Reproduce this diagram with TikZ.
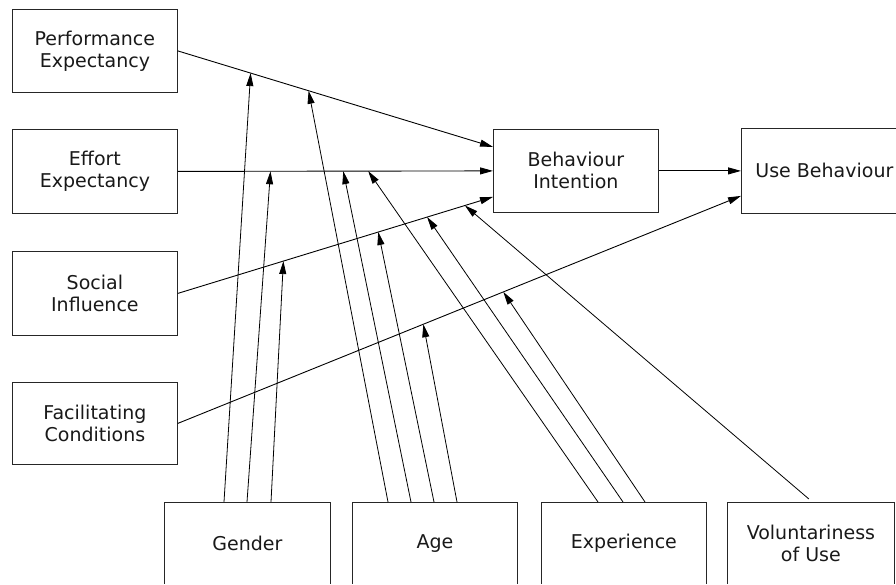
\documentclass[tikz,border=0pt]{standalone}
\usepackage{fontspec}
\setmainfont{DejaVu Sans}
\usetikzlibrary{arrows.meta,calc}
\begin{document}
\begin{tikzpicture}[x=1pt,y=-1pt,
  box/.style={draw=black!85,line width=0.8pt,minimum width=165pt,minimum height=83pt,
    inner sep=0pt,anchor=north west,align=center,
    font=\fontsize{19}{22}\selectfont,text=black!90},
  link/.style={line width=0.9pt,-{Triangle[length=13pt,width=7pt]}},
  mod/.style={line width=0.8pt,-{Triangle[length=13pt,width=7pt]}}]
\useasboundingbox (0,0) rectangle (896,584);
\clip (0,0) rectangle (896,584);

% determinants
\node[box] (PE) at (12,9)   {Performance\\Expectancy};
\node[box,minimum height=84pt] (EE) at (12,129) {Effort\\Expectancy};
\node[box,minimum height=84pt] (SI) at (12,251) {Social\\Influence};
\node[box,minimum height=82pt] (FC) at (12,382) {Facilitating\\Conditions};

% outcomes
\node[box] (BI) at (493,129) {Behaviour\\Intention};
\node[box,minimum width=166pt,minimum height=85pt] (UB) at (741,128) {Use Behaviour};

% moderators (running off the lower edge)
\node[box,minimum width=166pt,minimum height=82pt] (GE) at (164,502) {Gender};
\node[box,minimum height=82pt] (AG) at (352,502) {Age};
\node[box,minimum height=82pt] (EX) at (541,502) {Experience};
\node[box,minimum width=167pt,minimum height=82pt,draw=none] (VO) at (727,502) {Voluntariness\\of Use};
\draw[black!85,line width=0.8pt] (VO.south west) |- (VO.north east) -- (VO.south east);
\path[fill=white] (0,583.6) rectangle (896,590);

% main paths, with the points where moderators meet them
\draw[link] (PE.east) -- coordinate[pos=0.231] (pe1) coordinate[pos=0.415] (pe2)
  ($(BI.west)+(0,-24)$);
\draw[link] (EE.east) -- coordinate[pos=0.294] (ee1) coordinate[pos=0.525] (ee2)
  coordinate[pos=0.604] (ee3) (BI.west);
\draw[link] (SI.east) -- coordinate[pos=0.335] (si1) coordinate[pos=0.636] (si2)
  coordinate[pos=0.791] (si3) coordinate[pos=0.911] (si4) ($(BI.west)+(0,26)$);
\draw[link] (BI.east) -- (BI.east -| UB.west);
\draw[link] (FC.east) -- coordinate[pos=0.436] (fc1) coordinate[pos=0.578] (fc2)
  ($(UB.west)+(0,25)$);

% gender
\draw[mod] ($(GE.north west)+(60,0)$) -- (pe1);
\draw[mod] ($(GE.north west)+(83,0)$) -- (ee1);
\draw[mod] ($(GE.north west)+(107,0)$) -- (si1);
% age
\draw[mod] ($(AG.north west)+(36,0)$) -- (pe2);
\draw[mod] ($(AG.north west)+(59,0)$) -- (ee2);
\draw[mod] ($(AG.north west)+(82,0)$) -- (si2);
\draw[mod] ($(AG.north west)+(105,0)$) -- (fc1);
% experience
\draw[mod] ($(EX.north west)+(57,0)$) -- (ee3);
\draw[mod] ($(EX.north west)+(82,0)$) -- (si3);
\draw[mod] ($(EX.north west)+(104,0)$) -- (fc2);
% voluntariness
\draw[mod] ($(VO.north)+(-2,-3)$) -- (si4);
\end{tikzpicture}
\end{document}
